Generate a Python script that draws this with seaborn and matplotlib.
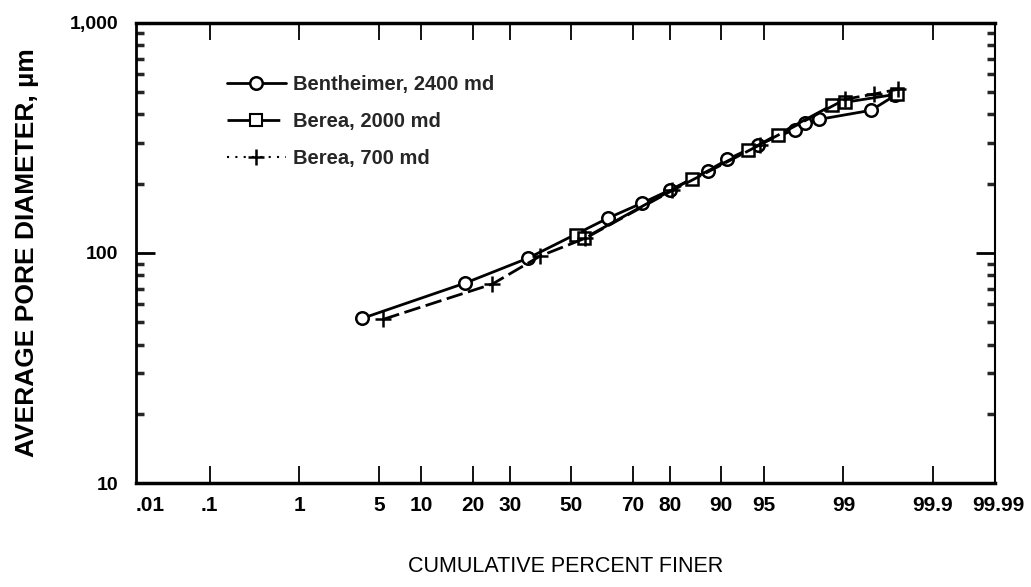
import numpy as np
import pandas as pd
import matplotlib
matplotlib.use("Agg")
import matplotlib.pyplot as plt
import matplotlib.transforms as mtransforms
import seaborn as sns
from matplotlib.ticker import FixedLocator, FixedFormatter, LogLocator, NullFormatter
from statistics import NormalDist
from matplotlib.lines import Line2D

# ---- data (cumulative percent finer, average pore diameter in micrometres) ----
bent_pct = [3.7, 18.2, 35.6, 62.4, 72.8, 80.1, 87.9, 90.9, 94.5, 97.2, 97.7, 98.3, 99.48, 99.72]
bent_dia = [52, 74, 95, 142, 165, 188, 228, 255, 296, 344, 366, 381, 417, 485]

b2000_pct = [51.7, 54.4, 84.9, 93.5, 96.1, 98.7, 99.04, 99.73]
b2000_dia = [120, 116, 210, 279, 327, 438, 452, 490]

b700_pct = [5.4, 25.0, 39.5, 54.8, 80.6, 94.7, 99.04, 99.51, 99.74]
b700_dia = [51.5, 73.3, 97, 116, 187, 296, 466, 490, 515]

series_names = ["Bentheimer, 2400 md", "Berea, 2000 md", "Berea, 700 md"]
x_ticks = [0.01, 0.1, 1, 5, 10, 20, 30, 50, 70, 80, 90, 95, 99, 99.9, 99.99]
x_tick_labels = [".01", ".1", "1", "5", "10", "20", "30", "50", "70", "80", "90", "95", "99", "99.9", "99.99"]
y_ticks = [10, 100, 1000]
y_tick_labels = ["10", "100", "1,000"]

df = pd.concat([
    pd.DataFrame({"pct": bent_pct, "dia": bent_dia, "series": series_names[0]}),
    pd.DataFrame({"pct": b2000_pct, "dia": b2000_dia, "series": series_names[1]}),
    pd.DataFrame({"pct": b700_pct, "dia": b700_dia, "series": series_names[2]}),
], ignore_index=True)

nd = NormalDist()
_vf = np.vectorize(lambda v: nd.inv_cdf(min(max(v, 1e-6), 100 - 1e-6) / 100.0), otypes=[float])
_vi = np.vectorize(lambda v: nd.cdf(v) * 100.0, otypes=[float])


def _fwd(p):
    return _vf(np.asarray(p, dtype=float))


def _inv(z):
    return _vi(np.asarray(z, dtype=float))


sns.set_theme(style="white")
FONT = ["Liberation Sans Narrow", "Liberation Sans", "DejaVu Sans"]
plt.rcParams["font.family"] = FONT

fig = plt.figure(figsize=(10.31, 5.87), dpi=100)
ax = fig.add_axes([0.132, 0.177, 0.833, 0.784])

sns.lineplot(
    data=df, x="pct", y="dia", hue="series", style="series", sort=False,
    palette={n: "black" for n in series_names},
    markers={series_names[0]: "o", series_names[1]: "s", series_names[2]: "P"},
    dashes={series_names[0]: "", series_names[1]: "", series_names[2]: (6, 2)},
    linewidth=2.0, ax=ax, legend=False,
)
for ln in ax.get_lines():
    ln.set_markerfacecolor("white")
    ln.set_markeredgecolor("black")
    ln.set_markeredgewidth(1.8)
    ln.set_markersize(9)
ax.get_lines()[1].set_markersize(8.5)
ax.get_lines()[2].set_marker("+")
ax.get_lines()[2].set_markersize(12)

XMIN, XMAX = 0.00996, 99.9853
ax.set_xscale("function", functions=(_fwd, _inv))
ax.set_yscale("log")
ax.set_xlim(XMIN, XMAX)
ax.set_ylim(10, 1000)

ax.xaxis.set_major_locator(FixedLocator(x_ticks))
ax.xaxis.set_major_formatter(FixedFormatter(x_tick_labels))
ax.xaxis.set_minor_locator(FixedLocator([]))
ax.yaxis.set_major_locator(FixedLocator(y_ticks))
ax.yaxis.set_major_formatter(FixedFormatter(y_tick_labels))
ax.yaxis.set_minor_locator(LogLocator(base=10, subs=np.arange(2, 10)))
ax.yaxis.set_minor_formatter(NullFormatter())

ax.tick_params(axis="x", which="major", direction="in", length=12, width=1.3,
               top=True, bottom=True, pad=9, labelsize=15, colors="black")
ax.tick_params(axis="y", which="major", direction="in", length=14, width=2,
               left=True, right=True, pad=13, labelsize=14, colors="black")
ax.tick_params(axis="y", which="minor", direction="in", length=6, width=2.5,
               left=True, right=True)

# edge labels (.01 and 99.99) sit at the frame edges without tick marks
for t, v in zip(ax.xaxis.get_major_ticks(), x_ticks):
    if v in (x_ticks[0], x_ticks[-1]):
        t.tick1line.set_visible(False)
        t.tick2line.set_visible(False)
for lab in ax.get_xticklabels() + ax.get_yticklabels():
    lab.set_fontweight("bold")
xlabs = ax.get_xticklabels()
xlabs[0].set_transform(xlabs[0].get_transform() + mtransforms.ScaledTranslation(10 / 72, 0, fig.dpi_scale_trans))
# the last label lies just past the right limit -> draw it as text at its own x value
edge_tr = mtransforms.blended_transform_factory(ax.transData, ax.transAxes) + \
    mtransforms.ScaledTranslation(-6 / 72, 0, fig.dpi_scale_trans)
ax.text(x_ticks[-1], -0.029, x_tick_labels[-1], transform=edge_tr, ha="center", va="top",
        fontsize=15, fontweight="bold", color="black", clip_on=False)

for side in ["left", "right", "top", "bottom"]:
    ax.spines[side].set_color("black")
ax.spines["left"].set_linewidth(2)
ax.spines["bottom"].set_linewidth(2.5)
ax.spines["top"].set_linewidth(2.5)
ax.spines["right"].set_linewidth(1.5)

ax.set_xlabel("CUMULATIVE PERCENT FINER", fontsize=15.5, labelpad=30, color="black")
ax.set_ylabel("AVERAGE PORE DIAMETER, µm", fontsize=19, labelpad=22, color="black",
              fontweight="bold")

handles = [
    Line2D([], [], color="black", lw=2, marker="o", mfc="white", mec="black", mew=1.8, ms=9),
    Line2D([], [], color="black", lw=2, marker="s", mfc="white", mec="black", mew=1.5, ms=9, dashes=(8, 3)),
    Line2D([], [], color="black", lw=1.5, marker="+", mec="black", mew=1.8, ms=12, ls=(0, (1, 3))),
]
leg = ax.legend(handles, series_names, loc="upper left", bbox_to_anchor=(0.085, 0.926),
                frameon=False, fontsize=14.5, handlelength=2.9, labelspacing=0.9,
                handletextpad=0.35, borderpad=0.4)
for t in leg.get_texts():
    t.set_fontweight("bold")

fig.savefig("out.png", dpi=100, facecolor="white")
